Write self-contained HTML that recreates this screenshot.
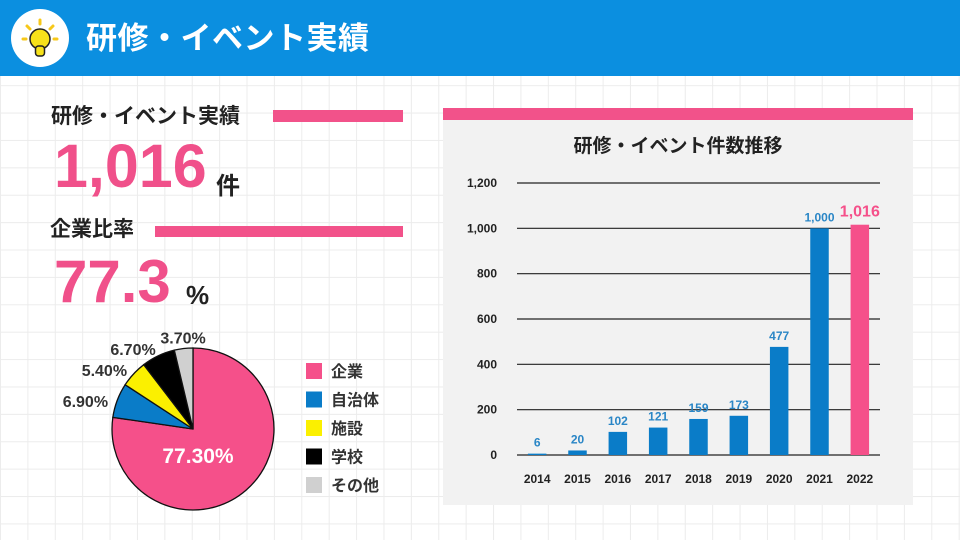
<!DOCTYPE html>
<html><head><meta charset="utf-8">
<style>
body{margin:0;width:960px;height:540px;overflow:hidden;font-family:"Liberation Sans","Noto Sans CJK JP",sans-serif;
background-color:#fff;background-image:linear-gradient(#ececec 1px,transparent 1px),linear-gradient(90deg,#ececec 1px,transparent 1px);background-size:27.4px 27.4px;background-position:0 3px;position:relative}
.abs{position:absolute}
.b{font-weight:bold}
</style></head><body>
<div class="abs" style="left:0;top:0;width:960px;height:76px;background:#0b8fe0"></div>
<svg class="abs" style="left:11px;top:9px" width="58" height="58" viewBox="0 0 58 58">
<circle cx="29" cy="29" r="29" fill="#fff"/>
<g stroke="#222" stroke-width="1.5" fill="#f7e21a">
<circle cx="29" cy="30" r="10"/><rect x="24.5" y="37" width="9" height="10" rx="3"/></g>
<g stroke="#f7c81a" stroke-width="3" stroke-linecap="round"><line x1="29" y1="11" x2="29" y2="15"/><line x1="16" y1="17" x2="19" y2="20"/><line x1="42" y1="17" x2="39" y2="20"/><line x1="12" y1="30" x2="15" y2="30"/><line x1="46" y1="30" x2="43" y2="30"/></g></svg>
<div class="abs b" style="left:86px;top:19px;font-size:31px;color:#fff;line-height:40px;letter-spacing:0.5px">研修・イベント実績</div>

<div class="abs b" style="left:51px;top:104px;font-size:21px;color:#222;line-height:26px">研修・イベント実績</div>
<div class="abs" style="left:273px;top:110px;width:130px;height:12px;background:#f2528a"></div>
<div class="abs b" style="left:54px;top:134px;font-size:61px;color:#f0508a;line-height:64px">1,016</div>
<div class="abs b" style="left:216px;top:166px;font-size:24px;color:#222">件</div>

<div class="abs b" style="left:50px;top:217px;font-size:21px;color:#222;line-height:26px">企業比率</div>
<div class="abs" style="left:155px;top:226px;width:248px;height:11px;background:#f2528a"></div>
<div class="abs b" style="left:54px;top:250px;font-size:60px;color:#f0508a;line-height:64px">77.3</div>
<div class="abs b" style="left:186px;top:280px;font-size:26px;color:#222">%</div>

<svg class="abs" id="pie" style="left:0;top:320px" width="420" height="220"></svg>

<div class="abs" style="left:443px;top:110px;width:470px;height:395px;background:#f2f2f2"></div>
<div class="abs" style="left:443px;top:108px;width:470px;height:12px;background:#f2528a"></div>
<div class="abs b" style="left:443px;top:131px;width:470px;text-align:center;font-size:19px;color:#222">研修・イベント件数推移</div>
<svg class="abs" id="bar" style="left:0;top:0" width="960" height="540"></svg>

<script>
const pieLabels=["企業","自治体","施設","学校","その他"];
const pieValues=[77.3,6.9,5.4,6.7,3.7];
const pieColors=["#f5508a","#0a7cc8","#fbf000","#000000","#d0d0d0"];
const years=["2014","2015","2016","2017","2018","2019","2020","2021","2022"];
const counts=[6,20,102,121,159,173,477,1000,1016];
const yTicks=[0,200,400,600,800,1000,1200];
const NS="http://www.w3.org/2000/svg";
function mk(p,t,a){const e=document.createElementNS(NS,t);for(const k in a)e.setAttribute(k,a[k]);p.appendChild(e);return e;}
// pie
const pie=document.getElementById('pie');
const cx=193,cy=109,r=81;
const tot=pieValues.reduce((a,b)=>a+b,0);
let ang=0;
pieValues.forEach((v,i)=>{
 const a0=ang,a1=ang+v/tot*2*Math.PI;ang=a1;
 const p0=[cx+r*Math.sin(a0),cy-r*Math.cos(a0)],p1=[cx+r*Math.sin(a1),cy-r*Math.cos(a1)];
 const s=mk(pie,'path',{d:`M${cx},${cy}L${p0[0]},${p0[1]}A${r},${r} 0 ${a1-a0>Math.PI?1:0} 1 ${p1[0]},${p1[1]}Z`,fill:pieColors[i],stroke:'#111','stroke-width':1.3});
 
 
 const txt=v.toFixed(2)+'%';
 const m=(a0+a1)/2;
 let t;
 if(i===0){t=mk(pie,'text',{x:cx+5,y:cy+34,'text-anchor':'middle','font-size':21,'font-weight':'bold',fill:'#fff'});}
 else{const lr=r+13;t=mk(pie,'text',{x:cx+lr*Math.sin(m)+(i===4?1:3),y:cy-lr*Math.cos(m)+(i===4?8:11),'text-anchor':i===4?'middle':'end','font-size':16,'font-weight':'bold',fill:'#333'});}
 t.textContent=txt;
 
 
 const ly=43+i*28.5;
 const lb=mk(pie,'rect',{x:306,y:ly,width:16,height:16,fill:pieColors[i]});
 
 
 const lt=mk(pie,'text',{x:331,y:ly+14,'font-size':16,'font-weight':'bold',fill:'#333'});
 lt.textContent=pieLabels[i];
 
 
});
// bars
const bar=document.getElementById('bar');
const x0=517,x1=880,yb=455,yt=183,ymax=1200;
const band=(x1-x0)/years.length;
const Y=v=>yb-(yb-yt)*v/ymax;
yTicks.forEach(v=>{
 const l=mk(bar,'line',{x1:x0,x2:x1,y1:Y(v),y2:Y(v),stroke:'#222','stroke-width':1.2});
 
 
 const t=mk(bar,'text',{x:497,y:Y(v)+4,'text-anchor':'end','font-size':12,'font-weight':'bold',fill:'#222'});
 t.textContent=v.toLocaleString('en-US');
 
 
});
counts.forEach((v,i)=>{
 const cxb=x0+band*(i+0.5),w=18.5,last=i===counts.length-1;
 const col=last?'#f5508a':'#0a7cc8';
 const rc=mk(bar,'rect',{x:cxb-w/2,y:Y(v),width:w,height:yb-Y(v),fill:col});
 
 
 const vt=mk(bar,'text',{x:cxb,y:Y(v)-(last?8:7),'text-anchor':'middle','font-size':last?16:12,'font-weight':'bold',fill:last?'#f5508a':'#2a86c6'});
 vt.textContent=v.toLocaleString('en-US');
 
 
 const xt=mk(bar,'text',{x:cxb,y:483,'text-anchor':'middle','font-size':12,'font-weight':'bold',fill:'#222'});
 xt.textContent=years[i];
 
 
});
</script>
</body></html>
